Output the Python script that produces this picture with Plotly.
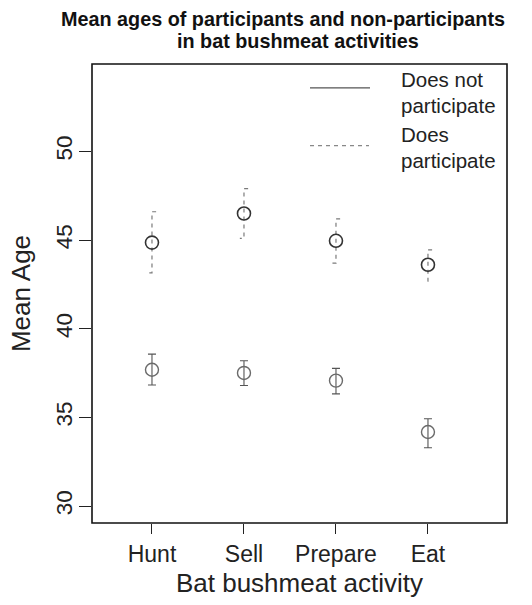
import plotly.graph_objects as go

# Activities on the x axis
activities = ["Hunt", "Sell", "Prepare", "Eat"]
x_pos = [1, 2, 3, 4]

# Mean age and interval bounds, people who participate
part_mean = [44.86, 46.50, 44.96, 43.61]
part_upper = [46.60, 47.90, 46.20, 44.45]
part_lower = [43.15, 45.10, 43.70, 42.68]

# Mean age and interval bounds, people who do not participate
nonpart_mean = [37.69, 37.51, 37.08, 34.18]
nonpart_upper = [38.57, 38.20, 37.77, 34.93]
nonpart_lower = [36.83, 36.80, 36.33, 33.29]

y_ticks = [30, 35, 40, 45, 50]

FONT = "Liberation Sans, Arial, sans-serif"
CAP = 0.045  # half-cap length in x units

fig = go.Figure()

# Non-participants: solid interval bars with caps
fig.add_trace(go.Scatter(
    x=x_pos, y=nonpart_mean, mode="markers",
    marker=dict(symbol="circle-open", size=13, color="#6a6a6a",
                line=dict(width=1.4, color="#6a6a6a")),
    error_y=dict(type="data", symmetric=False,
                 array=[u - m for u, m in zip(nonpart_upper, nonpart_mean)],
                 arrayminus=[m - l for m, l in zip(nonpart_mean, nonpart_lower)],
                 color="#555555", thickness=1.1, width=4),
    showlegend=False, hoverinfo="skip"))

# Participants: dashed interval bars with half caps
bx, by = [], []
for x, lo, hi in zip(x_pos, part_lower, part_upper):
    bx += [x + CAP, x, x, x - CAP, None]
    by += [hi, hi, lo, lo, None]
fig.add_trace(go.Scatter(
    x=bx, y=by, mode="lines",
    line=dict(color="#7a7a7a", width=1.2, dash="4px,4px"),
    showlegend=False, hoverinfo="skip"))
fig.add_trace(go.Scatter(
    x=x_pos, y=part_mean, mode="markers",
    marker=dict(symbol="circle-open", size=13, color="#333333",
                line=dict(width=1.6, color="#333333")),
    showlegend=False, hoverinfo="skip"))

W, H = 532, 605
L, R, T, B = 92, 25, 64, 80

def px_x(px):
    return (px - L) / (W - L - R)

def px_y(py):
    return 1 - (py - T) / (H - T - B)

# Frame around the plotting region
fig.add_shape(type="rect", xref="paper", yref="paper", x0=0, x1=1, y0=0, y1=1,
              line=dict(color="#111111", width=1.6))

# Legend
fig.add_shape(type="line", xref="paper", yref="paper",
              x0=px_x(310), x1=px_x(370), y0=px_y(88), y1=px_y(88),
              line=dict(color="#555555", width=1.3))
fig.add_shape(type="line", xref="paper", yref="paper",
              x0=px_x(310), x1=px_x(369), y0=px_y(146), y1=px_y(146),
              line=dict(color="#888888", width=1.3, dash="4px,4px"))
for txt, yy in [("Does not", 80), ("participate", 106), ("Does", 135), ("participate", 161)]:
    fig.add_annotation(text=txt, xref="paper", yref="paper", x=px_x(399), y=px_y(yy),
                       xanchor="left", yanchor="middle", showarrow=False,
                       font=dict(family=FONT, size=20.5, color="#222222"))

# Two-line bold title
fig.add_annotation(text="<b>Mean ages of participants and non-participants</b>",
                   xref="paper", yref="paper", x=px_x(283), y=px_y(19),
                   xanchor="center", yanchor="middle", showarrow=False,
                   font=dict(family=FONT, size=19.8, color="#111111"))
fig.add_annotation(text="<b>in bat bushmeat activities</b>",
                   xref="paper", yref="paper", x=px_x(298), y=px_y(41),
                   xanchor="center", yanchor="middle", showarrow=False,
                   font=dict(family=FONT, size=19.8, color="#111111"))

fig.update_layout(
    width=W, height=H,
    margin=dict(l=L, r=R, t=T, b=B, pad=0),
    paper_bgcolor="white", plot_bgcolor="white",
    font=dict(family=FONT, color="#222222"),
    xaxis=dict(range=[0.348, 4.859], tickvals=x_pos, ticktext=activities,
               showgrid=False, zeroline=False, showline=False,
               ticks="outside", ticklen=10, tickwidth=1.4, tickcolor="#222222",
               tickfont=dict(family=FONT, size=23, color="#222222"),
               title=dict(text="Bat bushmeat activity", standoff=8,
                          font=dict(family=FONT, size=26, color="#222222"))),
    yaxis=dict(range=[29.05, 54.93], tickvals=y_ticks, tickangle=-90,
               showgrid=False, zeroline=False, showline=False,
               ticks="outside", ticklen=12, tickwidth=1.4, tickcolor="#222222",
               ticklabelstandoff=-2,
               tickfont=dict(family=FONT, size=22.5, color="#222222"),
               title=dict(text="Mean Age", standoff=13,
                          font=dict(family=FONT, size=26, color="#222222"))),
)

fig.write_html("out.html")
